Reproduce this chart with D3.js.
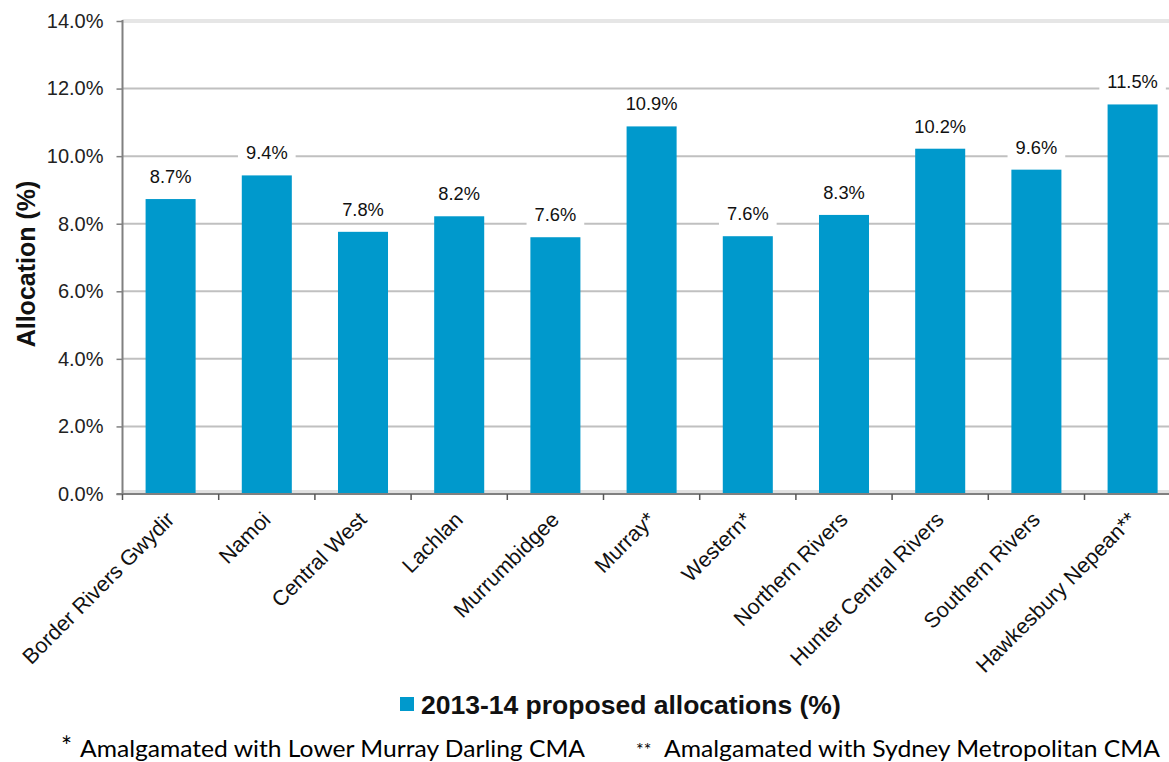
<!DOCTYPE html>
<html>
<head>
<meta charset="utf-8">
<script src="https://cdn.jsdelivr.net/npm/d3@7"></script>
<style>
	body { margin: 0; background: #fff; }
	svg { display: block; font-family: "Liberation Sans", Arial, sans-serif; }
</style>
</head>
<body>
<div id="chart"></div>
<script>
var categories = ["Border Rivers Gwydir", "Namoi", "Central West", "Lachlan", "Murrumbidgee",
	"Murray*", "Western*", "Northern Rivers", "Hunter Central Rivers", "Southern Rivers", "Hawkesbury Nepean**"];
var allocations = [8.73, 9.43, 7.76, 8.22, 7.6, 10.88, 7.63, 8.26, 10.22, 9.6, 11.53];
var yTicks = [0, 2, 4, 6, 8, 10, 12, 14];
var seriesName = "2013-14 proposed allocations (%)";
var footnotes = [
	{ mark: "*", text: "Amalgamated with Lower Murray Darling CMA" },
	{ mark: "**", text: "Amalgamated with Sydney Metropolitan CMA" }
];

var width = 1169, height = 762;
var plotLeft = 122.5, plotRight = 1180.7, plotTop = 21, plotBottom = 494;
var barColor = "#0099cc";

var svg = d3.select("#chart").append("svg")
	.attr("width", width)
	.attr("height", height);

var x = d3.scaleBand().domain(categories).range([plotLeft, plotRight]).paddingInner(0.48).paddingOuter(0.24);
var y = d3.scaleLinear().domain([0, 14]).range([plotBottom, plotTop]);
var step = x.step();

// gridlines
svg.append("g").selectAll("line")
	.data(yTicks.filter(function(d){ return d > 0 && d < 14; }))
	.enter().append("line")
	.attr("x1", plotLeft).attr("x2", plotRight)
	.attr("y1", function(d){ return y(d); })
	.attr("y2", function(d){ return y(d); })
	.attr("stroke", "#c0c0c0")
	.attr("stroke-width", 2);

// plot border top / bottom
svg.append("line")
	.attr("x1", plotLeft).attr("x2", plotRight)
	.attr("y1", y(14)).attr("y2", y(14))
	.attr("stroke", "#e6e6e6").attr("stroke-width", 4);
svg.append("line")
	.attr("x1", plotLeft).attr("x2", plotRight)
	.attr("y1", y(0) - 2.5).attr("y2", y(0) - 2.5)
	.attr("stroke", "#e0e0e0").attr("stroke-width", 3);

// bars
svg.append("g").selectAll("rect")
	.data(allocations)
	.enter().append("rect")
	.attr("x", function(d, i){ return x(categories[i]); })
	.attr("width", x.bandwidth())
	.attr("y", function(d){ return y(d); })
	.attr("height", function(d){ return y(0) - y(d); })
	.attr("fill", barColor);

// y axis
var yAxis = svg.append("g")
	.attr("transform", "translate(" + plotLeft + ",0)")
	.call(d3.axisLeft(y).tickValues(yTicks).tickSize(6).tickPadding(13)
		.tickFormat(function(d){ return d.toFixed(1) + "%"; }));
yAxis.select(".domain").attr("stroke", "#808080").attr("stroke-width", 2).attr("d", "M0," + (plotTop - 1) + "V" + (plotBottom + 1));
yAxis.selectAll(".tick line").attr("stroke", "#808080").attr("stroke-width", 1.5);
yAxis.selectAll(".tick text")
	.attr("font-size", 20)
	.attr("font-family", "Liberation Sans, Arial, sans-serif")
	.attr("fill", "#222");

// x axis line and ticks at band boundaries
var xAxis = svg.append("g");
xAxis.append("line")
	.attr("x1", plotLeft - 6).attr("x2", plotRight)
	.attr("y1", plotBottom).attr("y2", plotBottom)
	.attr("stroke", "#808080").attr("stroke-width", 2);
xAxis.selectAll("line.tick")
	.data(d3.range(categories.length + 1))
	.enter().append("line")
	.attr("class", "tick")
	.attr("x1", function(i){ return plotLeft + i * step; })
	.attr("x2", function(i){ return plotLeft + i * step; })
	.attr("y1", plotBottom).attr("y2", plotBottom + 6)
	.attr("stroke", "#555").attr("stroke-width", 1.5);
xAxis.selectAll("text")
	.data(categories)
	.enter().append("text")
	.attr("transform", function(d){
		return "translate(" + (x(d) + x.bandwidth() / 2 + 5) + "," + (plotBottom + 27) + ") rotate(-45)";
	})
	.attr("text-anchor", "end")
	.attr("font-size", 21.5)
	.attr("fill", "#111")
	.text(function(d){ return d; });

// data labels with white boxes
var labels = svg.append("g").selectAll("g")
	.data(allocations)
	.enter().append("g")
	.attr("transform", function(d, i){
		return "translate(" + (x(categories[i]) + x.bandwidth() / 2) + "," + (y(d) - 16) + ")";
	});
labels.append("text")
	.attr("text-anchor", "middle")
	.attr("font-size", 18.3)
	.attr("fill", "#111")
	.text(function(d){ return d.toFixed(1) + "%"; });
labels.each(function(){
	var g = d3.select(this);
	var b = g.select("text").node().getBBox();
	g.insert("rect", "text")
		.attr("x", b.x - 8).attr("y", b.y - 2)
		.attr("width", b.width + 16).attr("height", b.height + 4)
		.attr("fill", "#fff");
});

// y title
svg.append("text")
	.attr("transform", "translate(35,264) rotate(-90)")
	.attr("text-anchor", "middle")
	.attr("font-size", 25)
	.attr("font-weight", "bold")
	.attr("fill", "#111")
	.text("Allocation (%)");

// legend
var legend = svg.append("g").attr("transform", "translate(400,697)");
legend.append("rect")
	.attr("width", 14).attr("height", 14)
	.attr("fill", barColor);
legend.append("text")
	.attr("x", 21).attr("y", 16.5)
	.attr("font-size", 26.5)
	.attr("font-weight", "bold")
	.attr("fill", "#111")
	.text(seriesName);

// footnotes
var fnX = [[61, 80, 585], [636, 664, 1160]];
var notes = svg.append("g").attr("font-family", "Lato, 'Open Sans', sans-serif").attr("fill", "#000");
footnotes.forEach(function(f, i){
	notes.append("text")
		.attr("x", fnX[i][0]).attr("y", 756)
		.attr("font-size", i == 0 ? 26 : 18)
		.text(f.mark);
	notes.append("text")
		.attr("x", fnX[i][1]).attr("y", 757)
		.attr("font-size", 23)
		.attr("textLength", fnX[i][2] - fnX[i][1])
		.attr("lengthAdjust", "spacingAndGlyphs")
		.text(f.text);
});
</script>
</body>
</html>
